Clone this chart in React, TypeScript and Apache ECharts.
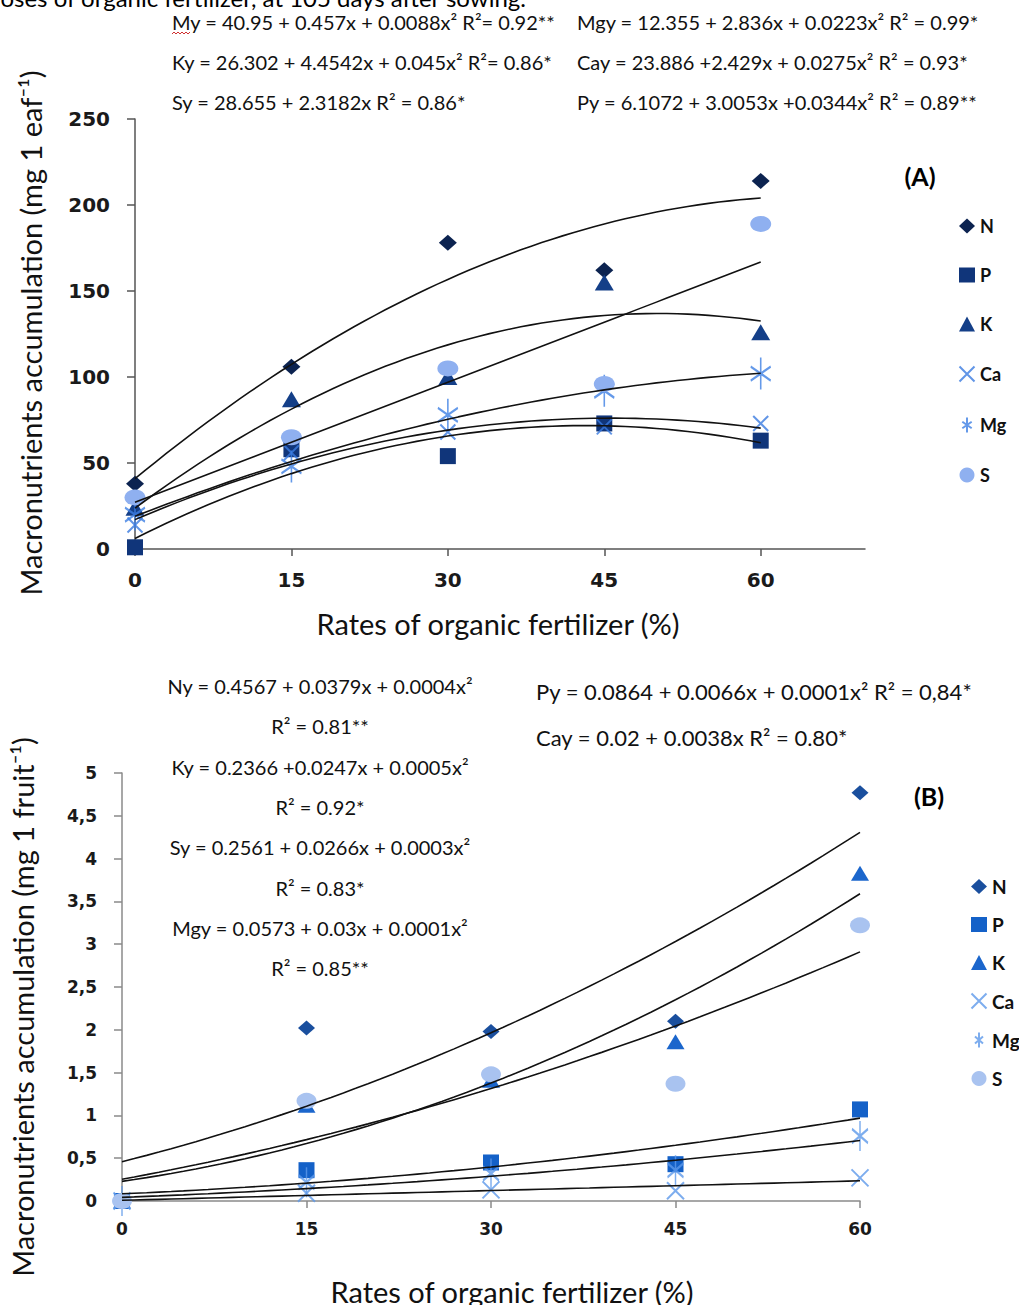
import React, { useEffect, useRef } from "react";
import * as echarts from "echarts";

// ---- data ----
const rates = [0, 15, 30, 45, 60];
const xTickValues = [0, 15, 30, 45, 60];
const elements = ["N", "P", "K", "Ca", "Mg", "S"];

// Panel A: leaf accumulation (mg leaf-1)
const leafN = [38, 106, 178, 162, 214];
const leafP = [1, 58, 54, 73, 63];
const leafK = [24, 87, 100, 155, 126];
const leafCa = [14, 56, 68, 71, 73];
const leafMg = [20, 48, 78, 92, 102];
const leafS = [30, 65, 105, 96, 189];
const leafDegree = [2, 2, 2, 2, 2, 1];

// Panel B: fruit accumulation (mg fruit-1)
const fruitN = [0, 2.02, 1.98, 2.1, 4.77];
const fruitP = [0, 0.36, 0.45, 0.43, 1.07];
const fruitK = [0, 1.12, 1.41, 1.86, 3.83];
const fruitCa = [0, 0.09, 0.13, 0.12, 0.27];
const fruitMg = [0, 0.22, 0.32, 0.36, 0.76];
const fruitS = [0, 1.17, 1.48, 1.37, 3.22];
const fruitDegree = [2, 2, 2, 1, 2, 2];

const eqA = [
  ["My = 40.95 + 0.457x + 0.0088x² R²= 0.92**", "Mgy = 12.355 + 2.836x + 0.0223x² R² = 0.99*"],
  ["Ky = 26.302 + 4.4542x + 0.045x² R²= 0.86*", "Cay = 23.886 +2.429x + 0.0275x² R² = 0.93*"],
  ["Sy = 28.655 + 2.3182x R² = 0.86*", "Py = 6.1072 + 3.0053x +0.0344x² R² = 0.89**"],
];
const eqBLeft = [
  "Ny = 0.4567 + 0.0379x + 0.0004x²",
  "R² = 0.81**",
  "Ky = 0.2366 +0.0247x + 0.0005x²",
  "R² = 0.92*",
  "Sy = 0.2561 + 0.0266x + 0.0003x²",
  "R² = 0.83*",
  "Mgy = 0.0573 + 0.03x + 0.0001x²",
  "R² = 0.85**",
];
const eqBRight = [
  "Py = 0.0864 + 0.0066x + 0.0001x² R² = 0,84*",
  "Cay = 0.02 + 0.0038x R² = 0.80*",
];

// ---- styling ----
const colorsA = ["#0c2350", "#10357a", "#143f88", "#3a7be0", "#3d7fe3", "#8fb0f0"];
const colorsB = ["#1a4f9e", "#1461c8", "#1b66cc", "#5c98ea", "#5c98ea", "#a9c3f0"];
const crossPath = "path://M0,0L10,10M10,0L0,10";
const starPathA = "path://M10,0L10,32M0,9L20,23M0,23L20,9";
const starPathB = "path://M8,0L8,30M0,8L16,22M0,22L16,8";

function polyfit(xs: number[], ys: number[], deg: number): number[] {
  const n = deg + 1;
  const A: number[][] = [];
  for (let i = 0; i < n; i++) {
    A.push([]);
    for (let j = 0; j < n; j++) {
      let s = 0;
      xs.forEach((x) => (s += Math.pow(x, i + j)));
      A[i].push(s);
    }
    let t = 0;
    xs.forEach((x, k) => (t += Math.pow(x, i) * ys[k]));
    A[i].push(t);
  }
  for (let c = 0; c < n; c++) {
    let p = c;
    for (let r = c + 1; r < n; r++) if (Math.abs(A[r][c]) > Math.abs(A[p][c])) p = r;
    [A[c], A[p]] = [A[p], A[c]];
    for (let r = 0; r < n; r++) {
      if (r === c) continue;
      const f = A[r][c] / A[c][c];
      for (let k = c; k <= n; k++) A[r][k] -= f * A[c][k];
    }
  }
  return A.map((row, i) => row[n] / row[i]);
}

function trend(xs: number[], ys: number[], deg: number) {
  const coef = polyfit(xs, ys, deg);
  const pts: number[][] = [];
  for (let x = xs[0]; x <= xs[xs.length - 1] + 1e-9; x += 1) {
    let y = 0;
    coef.forEach((c, i) => (y += c * Math.pow(x, i)));
    pts.push([x, y]);
  }
  return pts;
}

function symbolFor(i: number, panel: "A" | "B") {
  const big = panel === "A";
  switch (elements[i]) {
    case "N":
      return { symbol: "diamond", symbolSize: big ? [18, 16] : [17, 15] };
    case "P":
      return { symbol: "rect", symbolSize: 16 };
    case "K":
      return { symbol: "triangle", symbolSize: big ? [19, 16] : [18, 15] };
    case "Ca":
      return { symbol: crossPath, symbolSize: big ? 15 : 17 };
    case "Mg":
      return { symbol: big ? starPathA : starPathB, symbolSize: big ? [20, 32] : [16, 30] };
    default:
      return { symbol: "circle", symbolSize: big ? [21, 16] : [20, 16] };
  }
}

export default function App() {
  const ref = useRef<HTMLDivElement>(null);
  useEffect(() => {
    document.body.style.margin = "0";
    if (!ref.current) return;
    const chart = echarts.init(ref.current, undefined, { renderer: "svg" });

    const leaf = [leafN, leafP, leafK, leafCa, leafMg, leafS];
    const fruit = [fruitN, fruitP, fruitK, fruitCa, fruitMg, fruitS];

    const series: any[] = [];
    const addPanel = (panel: "A" | "B", sets: number[][], degs: number[], colors: string[], idx: number) => {
      sets.forEach((ys, i) => {
        series.push({
          type: "line",
          name: panel + "-" + elements[i] + "-trend",
          xAxisIndex: idx,
          yAxisIndex: idx,
          data: trend(rates, ys, degs[i]),
          showSymbol: false,
          symbol: "none",
          silent: true,
          lineStyle: { color: "#111", width: 1.6 },
          z: 3,
        });
      });
      sets.forEach((ys, i) => {
        const stroke = elements[i] === "Ca" || elements[i] === "Mg";
        const sym = symbolFor(i, panel);
        series.push({
          type: "scatter",
          name: panel + "-" + elements[i],
          xAxisIndex: idx,
          yAxisIndex: idx,
          data: rates.map((x, k) => [x, ys[k]]),
          symbol: sym.symbol,
          symbolSize: sym.symbolSize,
          itemStyle: stroke
            ? { color: "none", borderColor: colors[i], borderWidth: 2 }
            : { color: colors[i], opacity: 1 },
          z: 2,
        });
      });
    };
    addPanel("A", leaf, leafDegree, colorsA, 0);
    addPanel("B", fruit, fruitDegree, colorsB, 1);

    const tickLabelA = { fontFamily: "DejaVu Sans", fontWeight: "bold", fontSize: 20, color: "#1a1a1a" };
    const tickLabelB = { fontFamily: "DejaVu Sans", fontWeight: "bold", fontSize: 17, color: "#1a1a1a" };

    const graphics: any[] = [];
    graphics.push({
      type: "text",
      x: -13,
      y: -3,
      style: { text: "doses of organic fertilizer, at 105 days after sowing.", font: "24px Lato", fill: "#000", textVerticalAlign: "middle" },
    });
    eqA.forEach((row, r) => {
      [172, 577].forEach((x, c) => {
        graphics.push({
          type: "text",
          x,
          y: 22 + r * 40,
          style: { text: row[c], font: "20px Lato", fill: "#111", textVerticalAlign: "middle" },
        });
      });
    });
    graphics.push({
      type: "polyline",
      shape: { points: [[172, 34], [174, 32], [176, 34], [178, 32], [180, 34], [182, 32], [184, 34], [186, 32], [188, 34], [190, 32]] },
      style: { stroke: "#d03030", lineWidth: 1, fill: "none" },
    });
    eqBLeft.forEach((t, r) => {
      graphics.push({
        type: "text",
        x: 320,
        y: 686 + r * 40.3,
        style: { text: t, font: "20px Lato", fill: "#111", textAlign: "center", textVerticalAlign: "middle" },
      });
    });
    eqBRight.forEach((t, r) => {
      graphics.push({
        type: "text",
        x: 536,
        y: 691 + r * 46,
        style: { text: t, font: "22px Lato", fill: "#111", textVerticalAlign: "middle" },
      });
    });
    graphics.push(
      { type: "text", x: 920, y: 176, style: { text: "(A)", font: "bold 25px Lato", fill: "#000", textAlign: "center", textVerticalAlign: "middle" } },
      { type: "text", x: 929, y: 796, style: { text: "(B)", font: "bold 25px Lato", fill: "#000", textAlign: "center", textVerticalAlign: "middle" } },
      { type: "text", x: 498, y: 623, style: { text: "Rates of organic fertilizer (%)", font: "29px Lato", fill: "#111", textAlign: "center", textVerticalAlign: "middle" } },
      { type: "text", x: 512, y: 1291, style: { text: "Rates of organic fertilizer (%)", font: "29px Lato", fill: "#111", textAlign: "center", textVerticalAlign: "middle" } },
      { type: "text", x: 30, y: 333, rotation: Math.PI / 2, style: { text: "Macronutrients accumulation (mg 1 eaf⁻¹)", font: "29px Lato", fill: "#111", textAlign: "center", textVerticalAlign: "middle" } },
      { type: "text", x: 22, y: 1007, rotation: Math.PI / 2, style: { text: "Macronutrients accumulation (mg 1 fruit⁻¹)", font: "29px Lato", fill: "#111", textAlign: "center", textVerticalAlign: "middle" } }
    );

    chart.setOption({
      animation: false,
      backgroundColor: "#fff",
      grid: [
        { left: 135, top: 119, width: 730, height: 430 },
        { left: 122, top: 773, width: 738, height: 428 },
      ],
      xAxis: [
        {
          type: "value",
          gridIndex: 0,
          min: 0,
          max: 70,
          interval: 15,
          splitLine: { show: false },
          axisLine: { lineStyle: { color: "#555", width: 1.5 } },
          axisTick: { show: true, length: 7, customValues: xTickValues, lineStyle: { color: "#555", width: 1.5 } },
          axisLabel: { ...tickLabelA, margin: 21, customValues: xTickValues },
        },
        {
          type: "value",
          gridIndex: 1,
          min: 0,
          max: 60,
          interval: 15,
          splitLine: { show: false },
          axisLine: { lineStyle: { color: "#8a8a8a", width: 1.5 } },
          axisTick: { show: true, length: 7, lineStyle: { color: "#8a8a8a", width: 1.5 } },
          axisLabel: { ...tickLabelB, margin: 19 },
        },
      ],
      yAxis: [
        {
          type: "value",
          gridIndex: 0,
          min: 0,
          max: 250,
          interval: 50,
          splitLine: { show: false },
          axisLine: { show: true, lineStyle: { color: "#555", width: 1.5 } },
          axisTick: { show: true, length: 8, lineStyle: { color: "#555", width: 1.5 } },
          axisLabel: { ...tickLabelA, margin: 25 },
        },
        {
          type: "value",
          gridIndex: 1,
          min: 0,
          max: 5,
          interval: 0.5,
          splitLine: { show: false },
          axisLine: { show: true, lineStyle: { color: "#8a8a8a", width: 1.5 } },
          axisTick: { show: true, length: 8, lineStyle: { color: "#8a8a8a", width: 1.5 } },
          axisLabel: { ...tickLabelB, margin: 25, formatter: (v: number) => String(v).replace(".", ",") },
        },
      ],
      legend: [
        {
          orient: "vertical",
          left: 952,
          top: 212,
          itemGap: 31,
          itemWidth: 16,
          itemHeight: 15,
          data: elements.map((e) => "A-" + e),
          formatter: (n: string) => n.slice(2),
          textStyle: { fontFamily: "Lato", fontWeight: "bold", fontSize: 18, color: "#111" },
          selectedMode: false,
        },
        {
          orient: "vertical",
          left: 964,
          top: 872,
          itemGap: 19,
          itemWidth: 16,
          itemHeight: 15,
          data: elements.map((e) => "B-" + e),
          formatter: (n: string) => n.slice(2),
          textStyle: { fontFamily: "Lato", fontWeight: "bold", fontSize: 19, color: "#111" },
          selectedMode: false,
        },
      ],
      series,
      graphic: graphics,
    });
    return () => chart.dispose();
  }, []);
  return <div ref={ref} style={{ width: 1019, height: 1305 }} />;
}
